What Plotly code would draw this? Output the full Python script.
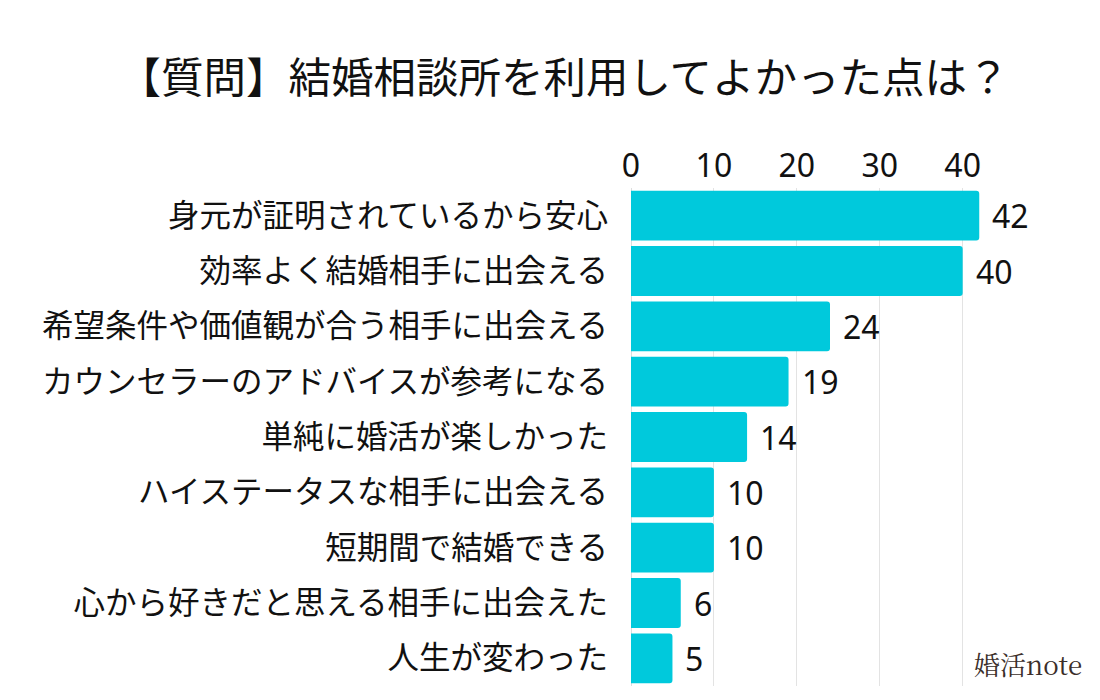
import plotly.graph_objects as go

categories = [
    "身元が証明されているから安心",
    "効率よく結婚相手に出会える",
    "希望条件や価値観が合う相手に出会える",
    "カウンセラーのアドバイスが参考になる",
    "単純に婚活が楽しかった",
    "ハイステータスな相手に出会える",
    "短期間で結婚できる",
    "心から好きだと思える相手に出会えた",
    "人生が変わった",
]
values = [42, 40, 24, 19, 14, 10, 10, 6, 5]
tick_vals = [0, 10, 20, 30, 40]
title_text = "【質問】結婚相談所を利用してよかった点は？"
watermark = "婚活note"

FONT = "Noto Sans, Noto Sans CJK JP, sans-serif"

W, H = 1100, 700
ML, MR, MT, MB = 631, 71, 188, 14
PW, PH = W - ML - MR, H - MT - MB

fig = go.Figure()
fig.add_trace(go.Bar(
    x=values,
    y=categories,
    orientation="h",
    marker=dict(color="#00C9DC", line=dict(width=0), cornerradius=3),
    hoverinfo="skip",
))

for c, v in zip(categories, values):
    fig.add_annotation(
        x=v, y=c, xref="x", yref="y",
        text=str(v), showarrow=False,
        xanchor="left", yanchor="middle", xshift=11,
        font=dict(family=FONT, size=32, color="#111111"),
    )

fig.add_annotation(
    x=(1084 - ML) / PW, y=(H - 684 - MB) / PH, xref="paper", yref="paper",
    text=watermark, showarrow=False, xanchor="right", yanchor="bottom",
    font=dict(family="Noto Serif CJK JP, Noto Sans CJK JP, serif", size=26, color="#3b2e2a"),
)

fig.update_layout(
    width=W, height=H,
    margin=dict(l=ML, r=MR, t=MT, b=MB),
    paper_bgcolor="white", plot_bgcolor="white",
    bargap=0.1,
    showlegend=False,
    title=dict(
        text=title_text, x=564 / W, xanchor="center", xref="container",
        y=1 - 78 / H, yanchor="middle", yref="container",
        font=dict(family=FONT, size=42.5, color="#111111"),
    ),
    font=dict(family=FONT, color="#111111"),
    xaxis=dict(
        side="top", range=[0, 48], tickvals=tick_vals,
        showgrid=True, gridcolor="#e3e3e3", gridwidth=1,
        zeroline=True, zerolinecolor="#dddddd", zerolinewidth=1,
        showline=False, ticks="",
        tickfont=dict(family=FONT, size=32, color="#111111"),
        ticklabelstandoff=4, fixedrange=True,
    ),
    yaxis=dict(
        categoryorder="array", categoryarray=categories, autorange="reversed",
        showgrid=False, ticks="", showline=False,
        tickfont=dict(family=FONT, size=31.5, color="#111111"),
        ticklabelstandoff=22, fixedrange=True,
    ),
)

fig.write_html("out.html")
